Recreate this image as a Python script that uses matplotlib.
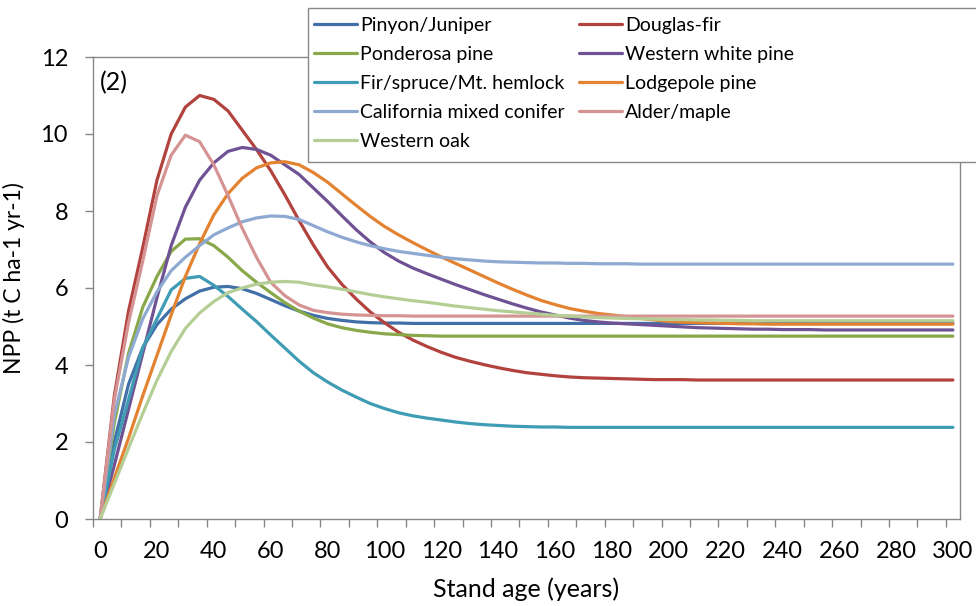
import numpy as np
import matplotlib.pyplot as plt
from matplotlib.patches import Rectangle

plt.rcParams['font.family'] = ['Lato', 'DejaVu Sans']

GRAY = '#878787'
FS_TICK = 17
FS_LABEL = 18
FS_LEG = 14

# stand age categories (every 5 years)
ages = list(range(0, 301, 5))

pinyon = [0, 2.0, 3.5, 4.45, 5.05, 5.45, 5.72, 5.92, 6.02, 6.04,
          5.98, 5.86, 5.70, 5.54, 5.40, 5.29, 5.21, 5.16, 5.12, 5.10,
          5.09, 5.09, 5.08, 5.08, 5.08, 5.08, 5.08, 5.08, 5.08, 5.08,
          5.08, 5.08, 5.08, 5.08, 5.08, 5.08, 5.08, 5.08, 5.08, 5.08,
          5.08, 5.08, 5.08, 5.08, 5.08, 5.08, 5.08, 5.08, 5.08, 5.08,
          5.08, 5.08, 5.08, 5.08, 5.08, 5.08, 5.08, 5.08, 5.08, 5.08,
          5.08]
douglas = [0, 3.2, 5.4, 7.05, 8.8, 10.0, 10.7, 11.0, 10.9, 10.6,
           10.1, 9.6, 9.05, 8.42, 7.75, 7.12, 6.55, 6.1, 5.72, 5.38,
           5.1, 4.85, 4.65, 4.48, 4.33, 4.2, 4.1, 4.01, 3.93, 3.86,
           3.8, 3.76, 3.72, 3.69, 3.67, 3.66, 3.65, 3.64, 3.63, 3.62,
           3.62, 3.62, 3.61, 3.61, 3.61, 3.61, 3.61, 3.61, 3.61, 3.61,
           3.61, 3.61, 3.61, 3.61, 3.61, 3.61, 3.61, 3.61, 3.61, 3.61,
           3.61]
ponderosa = [0, 2.5, 4.3, 5.5, 6.3, 6.95, 7.27, 7.28, 7.1, 6.8,
             6.45, 6.15, 5.88, 5.62, 5.4, 5.22, 5.07, 4.97, 4.9, 4.85,
             4.81, 4.79, 4.77, 4.76, 4.75, 4.75, 4.75, 4.75, 4.75, 4.75,
             4.75, 4.75, 4.75, 4.75, 4.75, 4.75, 4.75, 4.75, 4.75, 4.75,
             4.75, 4.75, 4.75, 4.75, 4.75, 4.75, 4.75, 4.75, 4.75, 4.75,
             4.75, 4.75, 4.75, 4.75, 4.75, 4.75, 4.75, 4.75, 4.75, 4.75,
             4.75]
white_pine = [0, 1.4, 2.85, 4.3, 5.75, 7.1, 8.1, 8.8, 9.25, 9.55,
              9.65, 9.6, 9.45, 9.2, 8.95, 8.6, 8.25, 7.88, 7.52, 7.2,
              6.92, 6.7, 6.52, 6.37, 6.23, 6.09, 5.96, 5.83, 5.71, 5.59,
              5.48, 5.38, 5.3, 5.22, 5.16, 5.12, 5.09, 5.07, 5.05, 5.03,
              5.01, 4.99, 4.97, 4.96, 4.95, 4.94, 4.93, 4.93, 4.92, 4.92,
              4.92, 4.91, 4.91, 4.91, 4.91, 4.91, 4.91, 4.91, 4.91, 4.91,
              4.91]
fir_spruce = [0, 1.8, 3.1, 4.45, 5.2, 5.95, 6.25, 6.3, 6.07, 5.78,
              5.45, 5.13, 4.78, 4.44, 4.1, 3.8, 3.56, 3.35, 3.17, 3.0,
              2.87, 2.76, 2.68, 2.62, 2.57, 2.52, 2.48, 2.45, 2.43, 2.41,
              2.40, 2.39, 2.39, 2.38, 2.38, 2.38, 2.38, 2.38, 2.38, 2.38,
              2.38, 2.38, 2.38, 2.38, 2.38, 2.38, 2.38, 2.38, 2.38, 2.38,
              2.38, 2.38, 2.38, 2.38, 2.38, 2.38, 2.38, 2.38, 2.38, 2.38,
              2.38]
lodgepole = [0, 1.06, 2.1, 3.2, 4.25, 5.3, 6.3, 7.15, 7.9, 8.45,
             8.85, 9.12, 9.25, 9.28, 9.2, 9.0, 8.75, 8.45, 8.15, 7.86,
             7.6, 7.38, 7.18, 6.99, 6.81, 6.64, 6.47, 6.3, 6.13, 5.97,
             5.82, 5.68, 5.57, 5.47, 5.4, 5.34, 5.3, 5.26, 5.21, 5.17,
             5.13, 5.11, 5.1, 5.09, 5.08, 5.07, 5.07, 5.06, 5.06, 5.06,
             5.06, 5.06, 5.06, 5.06, 5.06, 5.06, 5.06, 5.06, 5.06, 5.06,
             5.06]
california = [0, 2.7, 4.2, 5.2, 5.9, 6.45, 6.8, 7.1, 7.38, 7.56,
              7.72, 7.82, 7.87, 7.86, 7.78, 7.62, 7.46, 7.32, 7.2, 7.1,
              7.02, 6.95, 6.9, 6.85, 6.8, 6.76, 6.73, 6.7, 6.68, 6.67,
              6.66, 6.65, 6.65, 6.64, 6.64, 6.63, 6.63, 6.63, 6.62, 6.62,
              6.62, 6.62, 6.62, 6.62, 6.62, 6.62, 6.62, 6.62, 6.62, 6.62,
              6.62, 6.62, 6.62, 6.62, 6.62, 6.62, 6.62, 6.62, 6.62, 6.62,
              6.62]
alder = [0, 3.1, 5.1, 6.7, 8.4, 9.45, 9.97, 9.8, 9.2, 8.4,
         7.55, 6.8, 6.15, 5.8, 5.56, 5.42, 5.36, 5.32, 5.3, 5.29,
         5.28, 5.28, 5.27, 5.27, 5.27, 5.27, 5.27, 5.27, 5.27, 5.27,
         5.27, 5.27, 5.27, 5.27, 5.27, 5.27, 5.27, 5.27, 5.27, 5.27,
         5.27, 5.27, 5.27, 5.27, 5.27, 5.27, 5.27, 5.27, 5.27, 5.27,
         5.27, 5.27, 5.27, 5.27, 5.27, 5.27, 5.27, 5.27, 5.27, 5.27,
         5.27]
oak = [0, 0.92, 1.84, 2.74, 3.6, 4.35, 4.95, 5.35, 5.65, 5.88,
       6.0, 6.1, 6.15, 6.17, 6.15, 6.08, 6.03, 5.97, 5.9, 5.83,
       5.77, 5.72, 5.67, 5.63, 5.58, 5.53, 5.49, 5.45, 5.41, 5.38,
       5.35, 5.32, 5.29, 5.27, 5.25, 5.23, 5.22, 5.21, 5.2, 5.19,
       5.18, 5.18, 5.17, 5.17, 5.16, 5.16, 5.15, 5.15, 5.15, 5.15,
       5.15, 5.15, 5.15, 5.15, 5.15, 5.15, 5.15, 5.15, 5.15, 5.15,
       5.15]

names = ["Pinyon/Juniper", "Douglas-fir", "Ponderosa pine", "Western white pine",
         "Fir/spruce/Mt. hemlock", "Lodgepole pine", "California mixed conifer",
         "Alder/maple", "Western oak"]
series = [pinyon, douglas, ponderosa, white_pine, fir_spruce, lodgepole,
          california, alder, oak]
colors = ['#4170A9', '#B2423E', '#88A84A', '#6F5294', '#3E9DB4', '#E38331',
          '#8EA9D2', '#D59493', '#B5CE95']

fig = plt.figure(figsize=(9.76, 6.06), dpi=100)
ax = fig.add_axes([93/976, 1-519/606, 867/976, 462/606])

lines = []
for vals, name, c in zip(series, names, colors):
    ln, = ax.plot(ages, vals, color=c, lw=2.3, label=name,
                  solid_joinstyle='round', solid_capstyle='round')
    lines.append(ln)

ax.set_xlim(-2.5, 302.5)
ax.set_ylim(0, 12)
ax.set_yticks(range(0, 13, 2))
ax.set_xticks(range(0, 301, 20))
ax.set_xticks(np.arange(-2.5, 300, 10), minor=True)
ax.tick_params(axis='x', which='major', length=0, pad=16, labelsize=FS_TICK)
ax.tick_params(axis='x', which='minor', length=6, width=1, color=GRAY)
ax.tick_params(axis='y', length=6, width=1, color=GRAY, pad=12, labelsize=FS_TICK)
for sp in ax.spines.values():
    sp.set_color(GRAY)
    sp.set_linewidth(1)

ax.set_xlabel("Stand age (years)", fontsize=FS_LABEL, labelpad=11)
ax.set_ylabel("NPP (t C ha-1 yr-1)", fontsize=16.5, labelpad=11)
ax.yaxis.label.set_y(0.522)
ax.text(0.008, 0.944, "(2)", transform=ax.transAxes, fontsize=FS_LABEL,
        ha='left', va='center')

# legend box, sticking out past the right edge like the original
fig.add_artist(Rectangle((308/976, 1-162/606), 700/976, 154/606,
                         transform=fig.transFigure, facecolor='white',
                         edgecolor=GRAY, lw=1, zorder=4))
order = [0, 2, 4, 6, 8, 1, 3, 5, 7]
fig.legend([lines[i] for i in order], [names[i] for i in order], ncol=2,
           loc='upper left', bbox_to_anchor=(314/976, 1-17/606),
           frameon=False, fontsize=FS_LEG, handlelength=2.21, handletextpad=0.15,
           columnspacing=0.75, labelspacing=0.62, borderpad=0, borderaxespad=0)

fig.savefig("out.png", dpi=100)
